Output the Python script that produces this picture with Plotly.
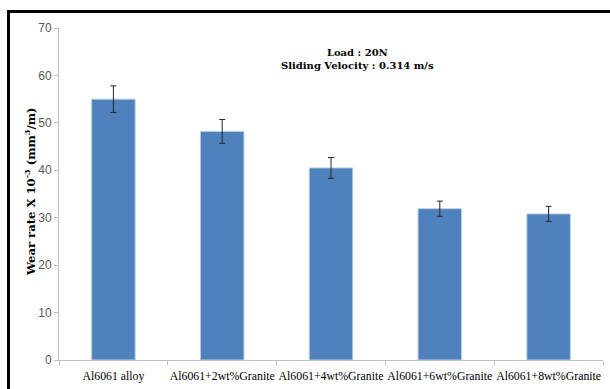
import plotly.graph_objects as go

# Wear rate of Al6061 alloy and granite-reinforced composites
categories = ["Al6061 alloy", "Al6061+2wt%Granite", "Al6061+4wt%Granite",
              "Al6061+6wt%Granite", "Al6061+8wt%Granite"]
wear_rate = [55.0, 48.2, 40.5, 31.9, 30.8]
wear_err = [2.8, 2.5, 2.2, 1.6, 1.6]
y_ticks = [0, 10, 20, 30, 40, 50, 60, 70]

W, H = 610, 389
ML, MR, MT, MB = 59, 7, 28, 29
pw, ph = W - ML - MR, H - MT - MB


def px_x(x):
    return (x - ML) / pw


def px_y(y):
    return (H - MB - y) / ph


fig = go.Figure()
fig.add_trace(go.Bar(
    x=categories,
    y=wear_rate,
    marker=dict(color="#4F81BD", line=dict(color="#B9CDE5", width=1)),
    error_y=dict(type="data", array=wear_err, visible=True,
                 color="#262626", thickness=1, width=3),
    width=0.4,
))

fig.update_layout(
    width=W, height=H,
    margin=dict(l=ML, r=MR, t=MT, b=MB),
    paper_bgcolor="white", plot_bgcolor="white",
    showlegend=False,
    xaxis=dict(
        automargin=False, tickangle=0, ticklabelstandoff=5,
        showline=True, linecolor="#BFBFBF", linewidth=1,
        ticks="outside", tickson="boundaries", ticklen=4, tickcolor="#BFBFBF",
        tickfont=dict(family="Liberation Serif", size=11.8, color="black"),
        showgrid=False,
    ),
    yaxis=dict(
        automargin=False,
        range=[0, 70], tickvals=y_ticks,
        showline=True, linecolor="#BFBFBF", linewidth=1,
        ticks="outside", ticklen=4, tickcolor="#BFBFBF",
        tickfont=dict(family="Liberation Sans", size=12, color="#595959"),
        showgrid=False, zeroline=False,
    ),
)

# Vertical axis title
fig.add_annotation(
    xref="paper", yref="paper", x=px_x(30), y=px_y(192),
    xanchor="center", yanchor="middle",
    text="<b>Wear rate X 10<sup>-3</sup> (mm<sup>3</sup>/m)</b>",
    textangle=-90, showarrow=False,
    font=dict(family="DejaVu Serif", size=11.6, color="black"),
)

# Test conditions
fig.add_annotation(
    xref="paper", yref="paper", x=px_x(357), y=px_y(59.5),
    xanchor="center", yanchor="middle",
    text="<b>Load : 20N</b><br><b>Sliding Velocity : 0.314 m/s</b>",
    showarrow=False, align="center",
    font=dict(family="DejaVu Serif", size=10, color="black"),
)

# Outer frame lines (left and top)
fig.add_shape(type="line", xref="paper", yref="paper",
              x0=px_x(8.5), x1=px_x(8.5), y0=px_y(10), y1=px_y(H),
              line=dict(color="black", width=3))
fig.add_shape(type="line", xref="paper", yref="paper",
              x0=px_x(7), x1=px_x(W), y0=px_y(11.5), y1=px_y(11.5),
              line=dict(color="black", width=3))

fig.write_html("out.html")
